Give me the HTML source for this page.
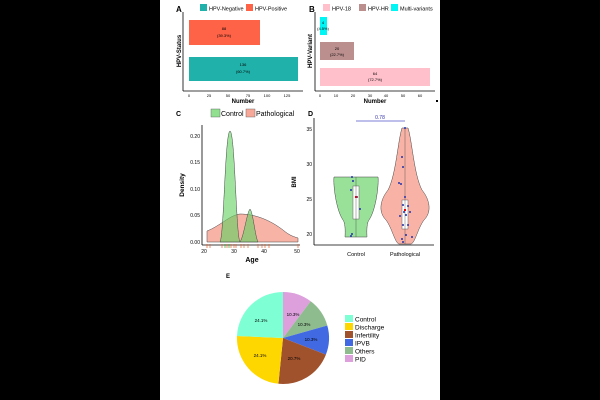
<!DOCTYPE html>
<html><head><style>
html,body{margin:0;padding:0;background:#000;}
svg{display:block;font-family:"Liberation Sans",sans-serif;}
</style></head><body>
<svg width="600" height="400" viewBox="0 0 600 400" xmlns="http://www.w3.org/2000/svg">
<rect x="0" y="0" width="600" height="400" fill="#000"/>
<rect x="160" y="0" width="280" height="400" fill="#fff"/>

<!-- Panel A -->
<text x="176" y="12" font-size="8" font-weight="bold">A</text>
<rect x="200" y="4" width="7" height="7" fill="#20b2aa"/>
<text x="209" y="10.5" font-size="5.5">HPV-Negative</text>
<rect x="246" y="4" width="7" height="7" fill="#ff6347"/>
<text x="255" y="10.5" font-size="5.5">HPV-Positive</text>
<line x1="183" y1="12" x2="183" y2="91" stroke="#000" stroke-width="0.8"/>
<line x1="183" y1="91" x2="303" y2="91" stroke="#000" stroke-width="0.8"/>
<rect x="189" y="20" width="71" height="25" fill="#ff6347"/>
<text x="224" y="30" font-size="4" text-anchor="middle">88</text>
<text x="224" y="37" font-size="4" text-anchor="middle">(39.3%)</text>
<rect x="189" y="57" width="109" height="24" fill="#20b2aa"/>
<text x="243" y="66" font-size="4" text-anchor="middle">136</text>
<text x="243" y="73" font-size="4" text-anchor="middle">(60.7%)</text>
<g font-size="4" text-anchor="middle">
<text x="189" y="97">0</text><text x="209" y="97">25</text><text x="228" y="97">50</text><text x="248" y="97">75</text><text x="267" y="97">100</text><text x="287" y="97">125</text></g>
<text x="243" y="103" font-size="6" font-weight="bold" text-anchor="middle">Number</text>
<text x="181" y="51" font-size="6" font-weight="bold" text-anchor="middle" transform="rotate(-90 181 51)">HPV-Status</text>

<!-- Panel B -->
<text x="309" y="12" font-size="8" font-weight="bold">B</text>
<rect x="323" y="4" width="7" height="7" fill="#ffc0cb"/>
<text x="332" y="10.5" font-size="5.5">HPV-18</text>
<rect x="359" y="4" width="7" height="7" fill="#bc8f8f"/>
<text x="368" y="10.5" font-size="5.5">HPV-HR</text>
<rect x="391" y="4" width="7" height="7" fill="#00f5f5"/>
<text x="400" y="10.5" font-size="5.5">Multi-variants</text>
<line x1="315" y1="12" x2="315" y2="91" stroke="#000" stroke-width="0.8"/>
<line x1="315" y1="91" x2="435" y2="91" stroke="#000" stroke-width="0.8"/>
<rect x="320" y="17" width="7" height="18" fill="#00f5f5"/>
<text x="323" y="24" font-size="4" text-anchor="middle">4</text>
<text x="323" y="30" font-size="4" text-anchor="middle">(4.5%)</text>
<rect x="320" y="42" width="34" height="18" fill="#bc8f8f"/>
<text x="337" y="50" font-size="4" text-anchor="middle">20</text>
<text x="337" y="56" font-size="4" text-anchor="middle">(22.7%)</text>
<rect x="320" y="68" width="110" height="18" fill="#ffc0cb"/>
<text x="375" y="75" font-size="4" text-anchor="middle">64</text>
<text x="375" y="81" font-size="4" text-anchor="middle">(72.7%)</text>
<g font-size="4" text-anchor="middle">
<text x="320" y="97">0</text><text x="336" y="97">10</text><text x="353" y="97">20</text><text x="370" y="97">30</text><text x="386" y="97">40</text><text x="403" y="97">50</text><text x="420" y="97">60</text></g>
<text x="375" y="103" font-size="6" font-weight="bold" text-anchor="middle">Number</text>
<text x="312" y="51" font-size="6" font-weight="bold" text-anchor="middle" transform="rotate(-90 312 51)">HPV-Variant</text>
<rect x="436" y="100" width="2" height="2" fill="#000"/>

<!-- Panel C -->
<text x="176" y="116" font-size="7" font-weight="bold">C</text>
<rect x="211" y="109" width="9" height="8" fill="#90e090" stroke="#555" stroke-width="0.4"/>
<text x="221" y="116" font-size="7">Control</text>
<rect x="246" y="109" width="9" height="8" fill="#f8a898" stroke="#555" stroke-width="0.4"/>
<text x="256" y="116" font-size="7">Pathological</text>
<line x1="202" y1="125" x2="202" y2="245" stroke="#000" stroke-width="0.8"/>
<line x1="202" y1="245" x2="300" y2="245" stroke="#000" stroke-width="0.8"/>
<g font-size="5" text-anchor="end">
<text x="200" y="244">0.00</text><text x="200" y="217">0.05</text><text x="200" y="191">0.10</text><text x="200" y="164">0.15</text><text x="200" y="138">0.20</text></g>
<g font-size="5" text-anchor="middle">
<text x="204" y="253">20</text><text x="234" y="253">30</text><text x="264" y="253">40</text><text x="297" y="253">50</text></g>
<text x="252" y="262" font-size="7" font-weight="bold" text-anchor="middle">Age</text>
<text x="184" y="185" font-size="6.5" font-weight="bold" text-anchor="middle" transform="rotate(-90 184 185)">Density</text>
<path d="M207,242 L207,231 C220,226 230,215 240,214 C255,214 270,220 283,230 C290,236 295,237 298,238 L298,242 Z" fill="#f58a78" fill-opacity="0.65" stroke="#444" stroke-width="0.5"/>
<path d="M220,242 C224,236 225,132 230,131 C235,132 236,236 240,242 C244,236 247,212 250,209 C253,212 255,236 258,242 Z" fill="#5fd05f" fill-opacity="0.6" stroke="#444" stroke-width="0.5"/>
<g stroke="#e8602c" stroke-width="0.7">
<line x1="207" y1="244" x2="207" y2="248"/><line x1="210" y1="244" x2="210" y2="248"/><line x1="222" y1="244" x2="222" y2="248"/><line x1="227" y1="244" x2="227" y2="248"/><line x1="231" y1="244" x2="231" y2="248"/><line x1="234" y1="244" x2="234" y2="248"/><line x1="236" y1="244" x2="236" y2="248"/><line x1="241" y1="244" x2="241" y2="248"/><line x1="244" y1="244" x2="244" y2="248"/><line x1="248" y1="244" x2="248" y2="248"/><line x1="258" y1="244" x2="258" y2="248"/><line x1="262" y1="244" x2="262" y2="248"/><line x1="265" y1="244" x2="265" y2="248"/><line x1="269" y1="244" x2="269" y2="248"/><line x1="298" y1="244" x2="298" y2="248"/></g>
<g stroke="#3a3" stroke-width="0.7"><line x1="225" y1="244" x2="225" y2="248"/><line x1="229" y1="244" x2="229" y2="248"/></g>

<!-- Panel D -->
<text x="308" y="116" font-size="7" font-weight="bold">D</text>
<line x1="314" y1="118" x2="314" y2="245" stroke="#000" stroke-width="0.8"/>
<line x1="314" y1="245" x2="434" y2="245" stroke="#000" stroke-width="0.8"/>
<g font-size="5" text-anchor="end">
<text x="312" y="131">35</text><text x="312" y="166">30</text><text x="312" y="201">25</text><text x="312" y="236">20</text></g>
<text x="296" y="182" font-size="6" font-weight="bold" text-anchor="middle" transform="rotate(-90 296 182)">BMI</text>
<line x1="356" y1="121" x2="405" y2="121" stroke="#5555cc" stroke-width="0.8"/>
<text x="380" y="119" font-size="5" fill="#3333aa" text-anchor="middle">0.78</text>
<path d="M334,177 C333,184 336,210 343,220 C346,224 345,236 345,237 L367,237 C367,236 366,224 369,220 C376,210 379,184 378,177 Z" fill="#7fd87f" fill-opacity="0.8" stroke="#444" stroke-width="0.5"/>
<path d="M402,128 C398,140 396,175 388,190 C380,200 378,212 386,220 C392,228 395,243 399,244 L411,244 C415,243 418,228 424,220 C432,212 430,200 422,190 C414,175 412,140 408,128 Z" fill="#f8a090" fill-opacity="0.8" stroke="#444" stroke-width="0.5"/>
<rect x="353" y="186" width="6" height="33" fill="#fff" stroke="#444" stroke-width="0.4"/>
<line x1="356" y1="177" x2="356" y2="237" stroke="#444" stroke-width="0.4"/>
<rect x="402" y="200" width="6" height="29" fill="#fff" stroke="#444" stroke-width="0.4"/>
<line x1="405" y1="128" x2="405" y2="244" stroke="#444" stroke-width="0.4"/>
<g fill="#2233aa">
<circle cx="352" cy="177" r="1"/><circle cx="353" cy="181" r="1"/><circle cx="351" cy="190" r="1"/><circle cx="357" cy="197" r="1"/><circle cx="360" cy="209" r="1"/><circle cx="352" cy="234" r="1"/><circle cx="351" cy="236" r="1"/>
<circle cx="405" cy="128" r="1"/><circle cx="402" cy="157" r="1"/><circle cx="403" cy="167" r="1"/><circle cx="399" cy="183" r="1"/><circle cx="401" cy="184" r="1"/><circle cx="405" cy="197" r="1"/><circle cx="403" cy="205" r="1"/><circle cx="408" cy="206" r="1"/><circle cx="404" cy="212" r="1"/><circle cx="400" cy="216" r="1"/><circle cx="410" cy="212" r="1"/><circle cx="406" cy="215" r="1"/><circle cx="403" cy="225" r="1"/><circle cx="408" cy="225" r="1"/><circle cx="406" cy="235" r="1"/><circle cx="402" cy="239" r="1"/><circle cx="412" cy="237" r="1"/><circle cx="403" cy="242" r="1"/></g>
<rect x="355" y="196" width="2" height="2" fill="#e00"/>
<rect x="404" y="209" width="2" height="2" fill="#e00"/>
<g font-size="5.5" text-anchor="middle"><text x="356" y="256">Control</text><text x="405" y="256">Pathological</text></g>

<!-- Panel E -->
<text x="226" y="278" font-size="6" font-weight="bold">E</text>
<path d="M283,338 L283,292 A46,46 0 0 1 310.7,301.3 Z" fill="#dda0dd"/>
<path d="M283,338 L310.7,301.3 A46,46 0 0 1 327.3,325.5 Z" fill="#8fbc8f"/>
<path d="M283,338 L327.3,325.5 A46,46 0 0 1 325.9,354.6 Z" fill="#4169e1"/>
<path d="M283,338 L325.9,354.6 A46,46 0 0 1 278.4,383.8 Z" fill="#a0522d"/>
<path d="M283,338 L278.4,383.8 A46,46 0 0 1 237,336 Z" fill="#ffd700"/>
<path d="M283,338 L237,336 A46,46 0 0 1 283,292 Z" fill="#7fffd4"/>
<g font-size="4.5" text-anchor="middle">
<text x="261" y="322">24.1%</text><text x="260" y="357">24.1%</text><text x="293" y="316">10.3%</text><text x="304" y="326">10.3%</text><text x="311" y="341">10.3%</text><text x="294" y="360">20.7%</text></g>
<g font-size="6.5">
<rect x="345" y="315" width="8" height="7" fill="#7fffd4"/><text x="355" y="321.5">Control</text>
<rect x="345" y="323" width="8" height="7" fill="#ffd700"/><text x="355" y="329.5">Discharge</text>
<rect x="345" y="331" width="8" height="7" fill="#a0522d"/><text x="355" y="337.5">Infertility</text>
<rect x="345" y="339" width="8" height="7" fill="#4169e1"/><text x="355" y="345.5">IPVB</text>
<rect x="345" y="347" width="8" height="7" fill="#8fbc8f"/><text x="355" y="353.5">Others</text>
<rect x="345" y="355" width="8" height="7" fill="#dda0dd"/><text x="355" y="361.5">PID</text></g>
</svg>
</body></html>
